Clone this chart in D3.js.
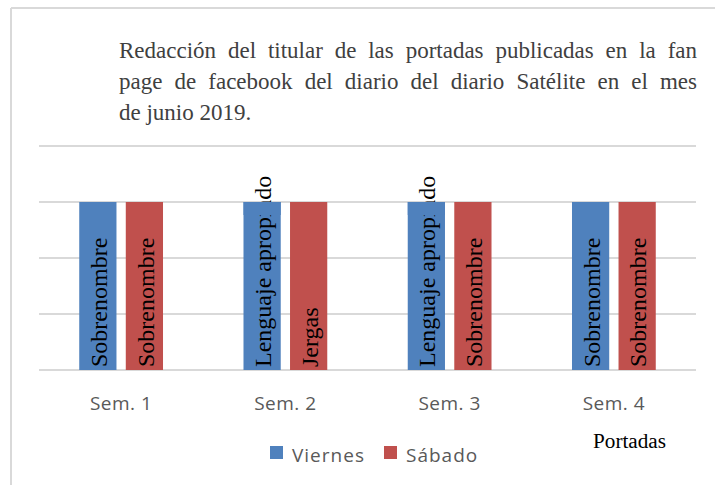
<!DOCTYPE html>
<html>
<head>
<meta charset="utf-8">
<script src="https://cdn.jsdelivr.net/npm/d3@7"></script>
<style>
  html, body { margin: 0; padding: 0; background: #fff; }
  #chart { width: 715px; height: 485px; }
</style>
</head>
<body>
<div id="chart"></div>
<script>
// data
const categories = ["Sem. 1", "Sem. 2", "Sem. 3", "Sem. 4"];
const seriesNames = ["Viernes", "Sábado"];
const viernesValues = [3, 3, 3, 3];
const sabadoValues = [3, 3, 3, 3];
const viernesLabels = ["Sobrenombre", "Lenguaje apropiado", "Lenguaje apropiado", "Sobrenombre"];
const sabadoLabels = ["Sobrenombre", "Jergas", "Sobrenombre", "Sobrenombre"];
const yTicks = [0, 1, 2, 3, 4];
const titleLines = [
  "Redacción del titular de las portadas publicadas en la fan",
  "page de facebook del diario del diario Satélite en el mes",
  "de junio 2019."
];
const axisTitle = "Portadas";

const colors = { "Viernes": "#4f81bd", "Sábado": "#c0504d" };

const width = 715, height = 485;
const svg = d3.select("#chart").append("svg")
  .attr("width", width)
  .attr("height", height);

// outer frame (left + top only visible)
svg.append("line").attr("x1", 11).attr("x2", 11).attr("y1", 8).attr("y2", height)
  .attr("stroke", "#d9d9d9").attr("stroke-width", 2);
svg.append("line").attr("x1", 11).attr("x2", width).attr("y1", 8).attr("y2", 8)
  .attr("stroke", "#d9d9d9").attr("stroke-width", 2);

// title, justified like the source
const titleLeft = 119, titleRight = 697;
const titleG = svg.append("g")
  .attr("font-family", "'Liberation Serif', 'Times New Roman', serif")
  .attr("font-size", 23)
  .attr("fill", "#404040");
titleLines.forEach((line, i) => {
  const yBase = 58 + i * 31;
  const words = line.split(" ");
  if (i === titleLines.length - 1) {
    titleG.append("text").attr("x", titleLeft).attr("y", yBase).text(line);
    return;
  }
  const nodes = words.map(w => titleG.append("text").attr("y", yBase).text(w));
  const widths = nodes.map(n => n.node().getComputedTextLength());
  const gap = (titleRight - titleLeft - d3.sum(widths)) / (words.length - 1);
  let x = titleLeft;
  nodes.forEach((n, j) => { n.attr("x", x); x += widths[j] + gap; });
});

// scales
const x0 = d3.scaleBand().domain(categories).range([39, 696]).padding(0);
const step = x0.step();
const x1 = d3.scaleBand().domain(seriesNames)
  .range([step * 0.245, step * 0.755]).paddingInner(0.2).paddingOuter(0);
const y = d3.scaleLinear().domain([0, 4]).range([370, 146]);

// gridlines
svg.append("g").selectAll("line")
  .data(yTicks)
  .enter().append("line")
  .attr("x1", 39).attr("x2", 696)
  .attr("y1", d => y(d)).attr("y2", d => y(d))
  .attr("stroke", "#d9d9d9").attr("stroke-width", 2);

// bars
const rows = categories.map((c, i) => ({
  cat: c,
  items: [
    { s: "Viernes", v: viernesValues[i], label: viernesLabels[i] },
    { s: "Sábado", v: sabadoValues[i], label: sabadoLabels[i] }
  ]
}));

const groups = svg.append("g").selectAll("g")
  .data(rows)
  .enter().append("g")
  .attr("transform", d => `translate(${x0(d.cat)},0)`);

groups.selectAll("rect")
  .data(d => d.items)
  .enter().append("rect")
  .attr("x", d => x1(d.s))
  .attr("y", d => y(d.v))
  .attr("width", x1.bandwidth())
  .attr("height", d => y(0) - y(d.v))
  .attr("fill", d => colors[d.s]);

// vertical data labels, starting at the bar base
groups.each(function(row) {
  const g = d3.select(this);
  row.items.forEach(d => {
    const cx = x1(d.s) + x1.bandwidth() / 2;
    const t = g.append("text")
      .attr("transform", `translate(${cx},${y(0) - 3}) rotate(-90)`)
      .attr("dy", "0.38em")
      .attr("font-family", "'Liberation Serif', 'Times New Roman', serif")
      .attr("font-size", 24)
      .attr("fill", "#000")
      .text(d.label);
    // long labels get cut just under the bar top, as in the source
    if (t.node().getComputedTextLength() > y(0) - y(d.v)) {
      g.append("rect")
        .attr("x", x1(d.s))
        .attr("y", y(d.v))
        .attr("width", x1.bandwidth())
        .attr("height", 13)
        .attr("fill", colors[d.s]);
    }
  });
});

// category labels
svg.append("g").selectAll("text")
  .data(categories)
  .enter().append("text")
  .attr("x", d => x0(d) + step / 2)
  .attr("y", 410)
  .attr("text-anchor", "middle")
  .attr("font-family", "'Open Sans', sans-serif")
  .attr("font-size", 19)
  .attr("letter-spacing", 0.5)
  .attr("fill", "#595959")
  .text(d => d);

// axis title
svg.append("text")
  .attr("x", 593).attr("y", 448)
  .attr("font-family", "'Liberation Serif', 'Times New Roman', serif")
  .attr("font-size", 20)
  .attr("textLength", 73)
  .attr("lengthAdjust", "spacingAndGlyphs")
  .attr("fill", "#000")
  .text(axisTitle);

// legend
const legendX = [270, 384];
const legend = svg.append("g").selectAll("g")
  .data(seriesNames)
  .enter().append("g")
  .attr("transform", (d, i) => `translate(${legendX[i]},446)`);
legend.append("rect")
  .attr("width", 13).attr("height", 13)
  .attr("fill", d => colors[d]);
legend.append("text")
  .attr("x", 22).attr("y", 16)
  .attr("font-family", "'Open Sans', sans-serif")
  .attr("font-size", 19)
  .attr("letter-spacing", 1)
  .attr("fill", "#595959")
  .text(d => d);
</script>
</body>
</html>
